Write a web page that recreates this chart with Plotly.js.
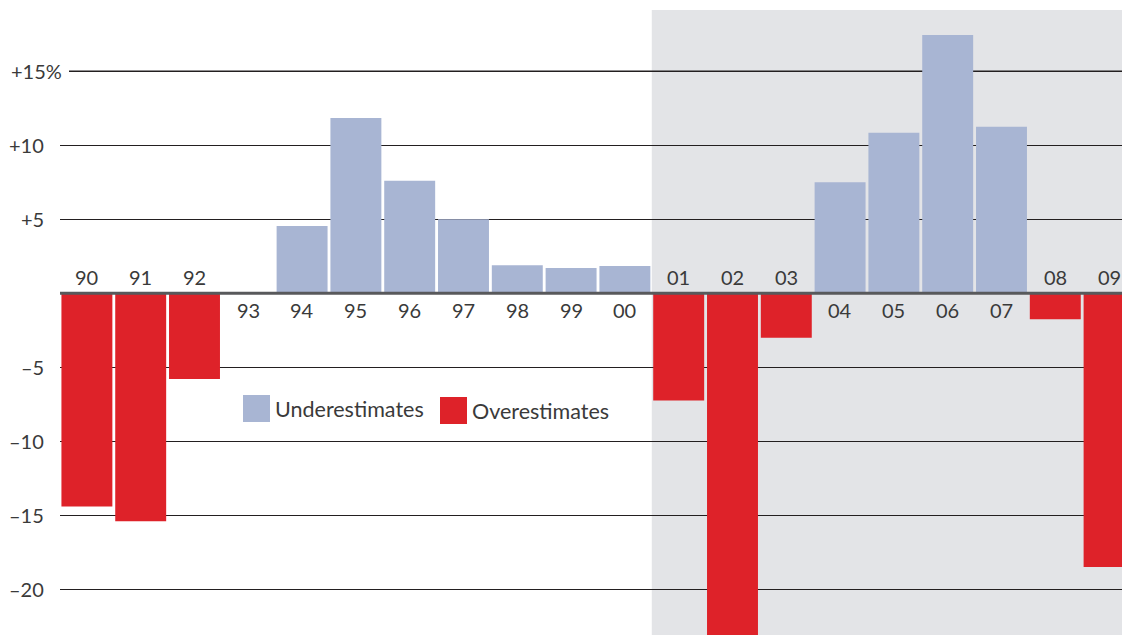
<!DOCTYPE html>
<html>
<head>
<meta charset="utf-8">
<script src="https://cdn.plot.ly/plotly-3.0.1.min.js"></script>
<style>
  html, body { margin: 0; padding: 0; background: #ffffff; }
  #chart { width: 1122px; height: 635px; }
</style>
</head>
<body>
<div id="chart"></div>
<script>
// ---- Data ----
const years = ["90","91","92","93","94","95","96","97","98","99","00","01","02","03","04","05","06","07","08","09"];
const errors = [-14.4, -15.4, -5.8, 0, 4.55, 11.85, 7.6, 5.0, 1.9, 1.7, 1.85, -7.25, -25, -3.0, 7.5, 10.85, 17.45, 11.25, -1.75, -18.5];
const gridVals = [-20, -15, -10, -5, 5, 10];
const tickVals = [15, 10, 5, -5, -10, -15, -20];
const tickText = ["+15%", "+10", "+5", "\u20135", "\u201310", "\u201315", "\u201320"];
const seriesNames = ["Underestimates", "Overestimates"];

const BLUE = "#a8b5d3";
const RED = "#de2229";
const GRAY_BG = "#e3e4e7";
const TEXT = "#3a3a3a";
const FONT = "Lato, 'Open Sans', sans-serif";

const W = 1122, H = 635, ML = 60, MR = 0, MT = 10, MB = 0;
const PW = W - ML - MR, PH = H - MT - MB;
const px = x => (x - ML) / PW;       // pixel -> paper x
const py = y => (H - MB - y) / PH;   // pixel -> paper y

const idx = years.map((_, i) => i);
const under = errors.map(v => v > 0 ? v : null);
const over = errors.map(v => v < 0 ? v : null);

const traces = [
  { type: "bar", x: idx, y: under, name: seriesNames[0], marker: { color: BLUE }, hoverinfo: "skip", showlegend: false },
  { type: "bar", x: idx, y: over, name: seriesNames[1], marker: { color: RED }, hoverinfo: "skip", showlegend: false }
];

const annotations = [];
// category labels
years.forEach((yr, i) => {
  const neg = errors[i] < 0;
  annotations.push({
    x: i, y: 0, xref: "x", yref: "y", text: yr, showarrow: false,
    yanchor: "middle", xanchor: "center", yshift: neg ? 16.5 : -16.5,
    font: { family: FONT, size: 20, color: TEXT }
  });
});
// y tick labels
tickVals.forEach((v, i) => {
  const isTop = tickText[i].indexOf("%") >= 0;
  annotations.push({
    x: 0, y: v, xref: "paper", yref: "y", text: tickText[i], showarrow: false,
    xanchor: isTop ? "left" : "right", yanchor: "middle",
    xshift: isTop ? -51 : -14,
    font: { family: FONT, size: 20, color: TEXT }
  });
});
// legend text
annotations.push({ x: px(273), y: py(409), xref: "paper", yref: "paper", text: seriesNames[0], showarrow: false, xanchor: "left", yanchor: "middle", font: { family: FONT, size: 21.5, color: TEXT } });
annotations.push({ x: px(470), y: py(411), xref: "paper", yref: "paper", text: seriesNames[1], showarrow: false, xanchor: "left", yanchor: "middle", font: { family: FONT, size: 21.5, color: TEXT } });

const shapes = [
  // shaded forecast region
  { type: "rect", xref: "x", yref: "paper", x0: 10.5, x1: 19.6, y0: 0, y1: 1, fillcolor: GRAY_BG, line: { width: 0 }, layer: "below" },
  // +15 gridline (starts right of its longer label)
  { type: "line", xref: "paper", yref: "y", x0: px(69), x1: 1, y0: 15, y1: 15, line: { color: "#231f20", width: 1.5 }, layer: "below" },
  // zero line
  { type: "line", xref: "paper", yref: "y", x0: 0, x1: 1, y0: 0, y1: 0, line: { color: "#58595b", width: 3 }, layer: "above" },
  // legend swatches
  { type: "rect", xref: "paper", yref: "paper", x0: px(243), x1: px(270), y0: py(422), y1: py(395), fillcolor: BLUE, line: { width: 0 } },
  { type: "rect", xref: "paper", yref: "paper", x0: px(440), x1: px(467), y0: py(424), y1: py(397), fillcolor: RED, line: { width: 0 } }
];

const layout = {
  width: W, height: H,
  margin: { l: ML, r: MR, t: MT, b: MB, pad: 0 },
  paper_bgcolor: "#ffffff",
  plot_bgcolor: "rgba(0,0,0,0)",
  barmode: "overlay",
  bargap: 0.053,
  showlegend: false,
  xaxis: {
    type: "linear", range: [-0.5, 19.24], showgrid: false, zeroline: false,
    showticklabels: false, ticks: "", showline: false, fixedrange: true
  },
  yaxis: {
    range: [-23.09, 19.14], tickvals: gridVals, showticklabels: false, ticks: "",
    showgrid: true, gridcolor: "#231f20", gridwidth: 1.5, zeroline: false, showline: false, fixedrange: true
  },
  shapes: shapes,
  annotations: annotations
};

Plotly.newPlot("chart", traces, layout, { staticPlot: true, displayModeBar: false });
</script>
</body>
</html>
